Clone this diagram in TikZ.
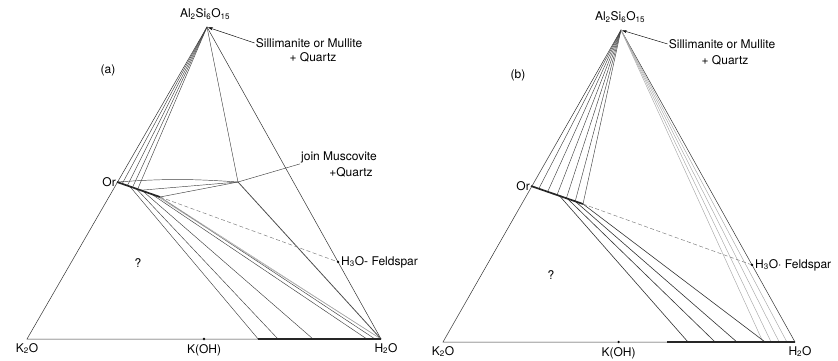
\documentclass[tikz,border=0pt]{standalone}
\usepackage{fontspec}
\setmainfont{TeX Gyre Heros}
\usetikzlibrary{arrows.meta,positioning,calc}

\begin{document}
\begin{tikzpicture}[x=1pt, y=-1pt,
  side/.style={line width=0.5pt, black!80},
  tie/.style={line width=0.45pt, black!75},
  faint/.style={line width=0.45pt, black!35},
  solid join/.style={line width=1.7pt, black!85},
  feld/.style={dash pattern=on 4pt off 2.5pt, line width=0.5pt, black!50},
  lead/.style={-{Stealth[length=5pt,width=3pt]}, line width=0.45pt, shorten >=1pt},
  lab/.style={font=\fontsize{12}{13}\selectfont, inner sep=1pt},
  spot/.style={circle, fill, inner sep=0pt, minimum size=2.6pt}
]
\useasboundingbox (0,0) rectangle (838,361);
% ---------- (a) ----------
\coordinate (aA) at (207,27);
\coordinate (aK) at (27,339);
\coordinate (aW) at (381,339);
\coordinate (aOr) at (117,182);
\coordinate (aOrE) at (160,197);
\coordinate (aMu) at (238,182);
\coordinate (aFs) at ($(aA)!0.753!(aW)$);
\coordinate (aB) at ($(aK)!0.653!(aW)$);
\node[spot] (aKOH) at ($(aK)!0.5!(aW)$) {};
\draw[side] (aK) -- (aA) -- (aW) -- cycle;
\foreach \t in {0.12,0.24,0.36,0.48} \draw[tie] (aA) -- ($(aOr)!\t!(aOrE)$);
\draw[tie] (aA) -- (aMu);
\draw[tie] (aOr) to[bend left=4] (aMu);
\draw[tie] ($(aOr)!0.55!(aOrE)$) -- (aMu);
\draw[tie] (aOrE) -- (aMu);
\draw[line width=0.8pt, black!70] (aMu) -- (aW);
\foreach \t/\f in {0.3/0.653,0.45/0.709,0.6/0.808,0.8/0.96,1/0.983}
  \draw[tie] ($(aOr)!\t!(aOrE)$) -- ($(aK)!\f!(aW)$);
\draw[faint] ($(aOr)!0.9!(aOrE)$) -- (aW);
\draw[faint] (aOrE) -- (aW);
\draw[feld] (aOrE) -- (aFs);
\draw[solid join] (aOr) -- (aOrE);
\draw[solid join] (aB) -- (aW);
\node[spot] at (aFs) {};
\node[lab] (aTop) at (205,14) {Al\textsubscript{2}Si\textsubscript{6}O\textsubscript{15}};
\node[lab] (aSil) at (309,43) {Sillimanite or Mullite};
\node[lab] (aSilQ) at (313,57) {+ Quartz};
\draw[lead] (aSil.west) -- (aA);
\node[lab, anchor=west] (aJoin) at (300,157) {join Muscovite};
\node[lab] (aJoinQ) at (351,172) {+Quartz};
\draw[tie] (aMu) -- (aJoin.south west);
\node[lab] (aLab) at (108,70) {(a)};
\node[lab, left=0pt of aOr] (aOrL) {Or};
\node[lab] (aQ) at (138,263) {?};
\node[lab, right=2pt of aFs] (aFsL) {H\textsubscript{3}O- Feldspar};
\node[lab, below=3pt of aK] (aKL) {K\textsubscript{2}O};
\node[lab, below=3pt of aKOH] (aKOHL) {K(OH)};
\node[lab, below=3pt of aW, xshift=5pt] (aWL) {H\textsubscript{2}O};
% ---------- (b) ----------
\coordinate (bA) at (621,30);
\coordinate (bK) at (443,342);
\coordinate (bW) at (795,342);
\coordinate (bOr) at (531,186);
\coordinate (bOrE) at (583,204);
\coordinate (bFs) at ($(bA)!0.753!(bW)$);
\coordinate (bB) at ($(bK)!0.636!(bW)$);
\node[spot] (bKOH) at ($(bK)!0.499!(bW)$) {};
\draw[side] (bK) -- (bA) -- (bW) -- cycle;
\foreach \t in {0.15,0.32,0.5,0.68,0.85,1} \draw[tie] (bA) -- ($(bOr)!\t!(bOrE)$);
\foreach \f in {0.909,0.932,0.955,0.977} \draw[faint] (bA) -- ($(bK)!\f!(bW)$);
\foreach \t/\f in {0.55/0.696,0.7/0.773,0.85/0.835,1/0.915}
  \draw[line width=0.6pt, black!80] ($(bOr)!\t!(bOrE)$) -- ($(bK)!\f!(bW)$);
\draw[feld] (bOrE) -- (bFs);
\draw[solid join] (bOr) -- (bOrE);
\draw[solid join] (bB) -- (bW);
\node[spot] at (bFs) {};
\node[lab] (bTop) at (620,17) {Al\textsubscript{2}Si\textsubscript{6}O\textsubscript{15}};
\node[lab] (bSil) at (722,44) {Sillimanite or Mullite};
\node[lab] (bSilQ) at (725,60) {+ Quartz};
\draw[lead] (bSil.west) -- (bA);
\node[lab] (bLab) at (518,75) {(b)};
\node[lab, left=0pt of bOr] (bOrL) {Or};
\node[lab] (bQ) at (551,275) {?};
\node[lab, right=2pt of bFs] (bFsL) {H\textsubscript{3}O· Feldspar};
\node[lab, below=3pt of bK] (bKL) {K\textsubscript{2}O};
\node[lab, below=3pt of bKOH] (bKOHL) {K(OH)};
\node[lab, below=3pt of bW, xshift=5pt] (bWL) {H\textsubscript{2}O};
\end{tikzpicture}
\end{document}
